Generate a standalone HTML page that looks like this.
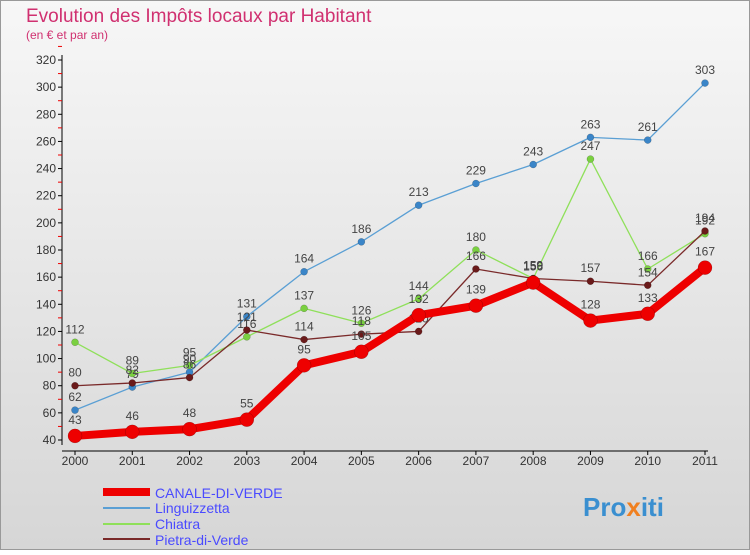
<!DOCTYPE html>
<html><head><meta charset="utf-8"><style>
body{margin:0;width:750px;height:550px;overflow:hidden;font-family:"Liberation Sans",sans-serif}
</style></head><body>
<svg width="750" height="550" xmlns="http://www.w3.org/2000/svg">
<defs><linearGradient id="bg" x1="0" y1="0" x2="0" y2="1"><stop offset="0" stop-color="#f7f7f7"/><stop offset="1" stop-color="#d6d6d6"/></linearGradient></defs>
<rect x="0.5" y="0.5" width="749" height="549" fill="url(#bg)" stroke="#999"/>
<text x="26" y="22" font-size="19" fill="#d03070">Evolution des Impôts locaux par Habitant</text>
<text x="26" y="39" font-size="12" fill="#d03070">(en € et par an)</text>
<g id="axes"></g><g id="series"></g>
<g>
<line x1="103" y1="492" x2="150" y2="492" stroke="#e00" stroke-width="8"/>
<text x="155" y="498" font-size="14" fill="#4a4aff">CANALE-DI-VERDE</text>
<line x1="103" y1="508" x2="150" y2="508" stroke="#5a9fd4" stroke-width="2"/>
<text x="155" y="513" font-size="14" fill="#4a4aff">Linguizzetta</text>
<line x1="103" y1="524" x2="150" y2="524" stroke="#8fe05a" stroke-width="2"/>
<text x="155" y="529" font-size="14" fill="#4a4aff">Chiatra</text>
<line x1="103" y1="539" x2="150" y2="539" stroke="#7a2a2a" stroke-width="2"/>
<text x="155" y="545" font-size="14" fill="#4a4aff">Pietra-di-Verde</text>
</g>
<text x="583" y="516" font-size="26" font-weight="bold" fill="#3a8fd0">Pro<tspan fill="#f08020">x</tspan>iti</text>
</svg>
<script>
const years=["2000","2001","2002","2003","2004","2005","2006","2007","2008","2009","2010","2011"];
const canale=[43,46,48,55,95,105,132,139,156,128,133,167];
const linguizzetta=[62,79,90,131,164,186,213,229,243,263,261,303];
const chiatra=[112,89,95,116,137,126,144,180,159,247,166,192];
const pietra=[80,82,86,121,114,118,120,166,159,157,154,194];
const yTicks=[40,60,80,100,120,140,160,180,200,220,240,260,280,300,320];
const NS="http://www.w3.org/2000/svg";
const X=i=>75+i*(630/11), Y=v=>440-(v-40)*380/280;
function mk(t,a,p){const e=document.createElementNS(NS,t);for(const k in a)e.setAttribute(k,a[k]);p.appendChild(e);return e;}
const ax=document.getElementById('axes');
const yl=mk('line',{x1:62,y1:55,x2:62,y2:445,stroke:'#000'},ax);


const xl=mk('line',{x1:62,y1:451,x2:708,y2:451,stroke:'#000'},ax);


yTicks.forEach(v=>{
 mk('line',{x1:58,y1:Y(v),x2:62,y2:Y(v),stroke:'#000'},ax);
 mk('line',{x1:58,y1:Y(v+10),x2:62,y2:Y(v+10),stroke:'#e00'},ax);
 const t=mk('text',{x:56,y:Y(v)+4,'font-size':12,'text-anchor':'end',fill:'#333'},ax);t.textContent=v;
 
 
});
years.forEach((y,i)=>{
 mk('line',{x1:X(i),y1:451,x2:X(i),y2:455,stroke:'#000'},ax);
 const t=mk('text',{x:X(i),y:465,'font-size':12,'text-anchor':'middle',fill:'#333'},ax);t.textContent=y;
 
 
});
const sg=document.getElementById('series');
function draw(data,color,w,r,dot,name){
 const g=mk('g',{},sg);
 
 
 mk('polyline',{points:data.map((v,i)=>X(i)+','+Y(v)).join(' '),fill:'none',stroke:color,'stroke-width':w,'stroke-linejoin':'round'},g);
 data.forEach((v,i)=>{
  const c=mk('circle',{cx:X(i),cy:Y(v),r:r,fill:dot,stroke:'rgba(0,0,0,0.3)','stroke-width':0.5},g);
  
  
  const t=mk('text',{x:X(i),y:Y(v)-9-(r>5?3:0),'font-size':12,'text-anchor':'middle',fill:'#444'},g);t.textContent=v;
  
  
 });
}
draw(linguizzetta,'#5a9fd4',1.3,3.5,'#3a85c8','linguizzetta');
draw(chiatra,'#8fe05a',1.3,3.5,'#7ad040','chiatra');
draw(pietra,'#7a2a2a',1.3,3.5,'#6a1a1a','pietra');
draw(canale,'#e00',8,7,'#e00','canale');
</script>
</body></html>
